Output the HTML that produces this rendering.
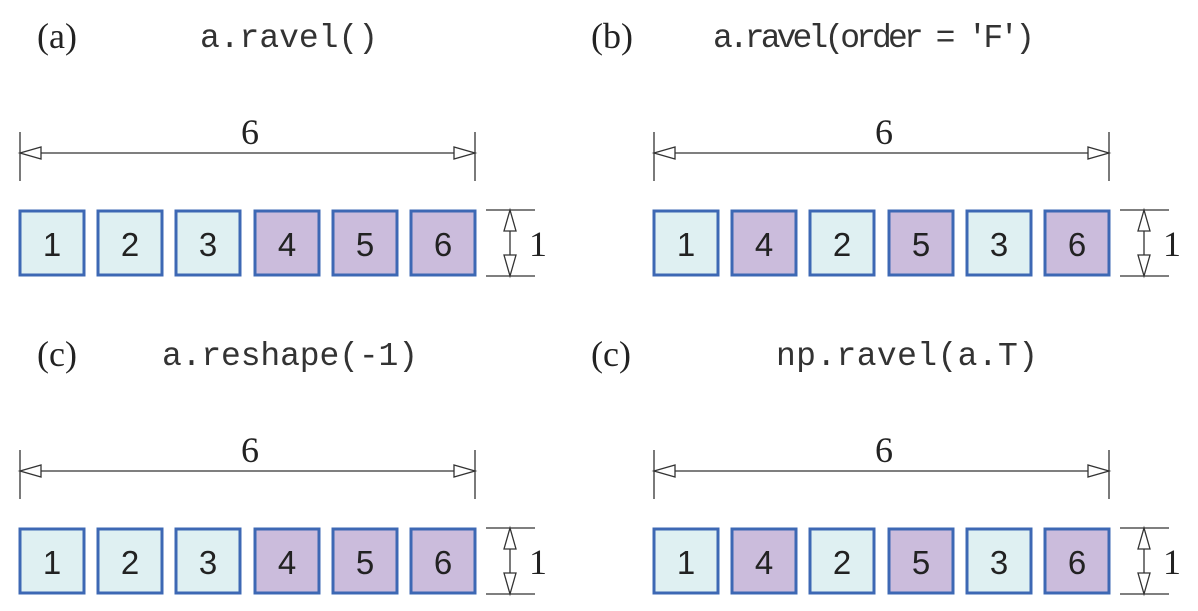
<!DOCTYPE html>
<html><head><meta charset="utf-8"><style>
html,body{margin:0;padding:0;background:#fff}
svg{display:block}
.t{font-family:"Liberation Serif",serif;font-size:36px;fill:#222}
.c{font-family:"Liberation Mono",monospace;font-size:33px;fill:#333}
.n{font-family:"Liberation Sans",sans-serif;font-size:33px;fill:#222;text-anchor:middle}
.l{stroke:#333;stroke-width:1.3;fill:none}
.a{stroke:#333;stroke-width:1.3;fill:#fff}
.b1{fill:#dff0f2;stroke:#3d68b4;stroke-width:3}
.b2{fill:#cbbcdc;stroke:#3d68b4;stroke-width:3}
</style></head><body>
<svg width="1198" height="611" viewBox="0 0 1198 611" xmlns="http://www.w3.org/2000/svg">
<defs>
<g id="dim">
  <line class="l" x1="20" y1="132" x2="20" y2="181"/>
  <line class="l" x1="475" y1="132" x2="475" y2="181"/>
  <line class="l" x1="40" y1="153" x2="455" y2="153"/>
  <polygon class="a" points="20,153 41,147 41,159"/>
  <polygon class="a" points="475,153 454,147 454,159"/>
  <text class="t" x="250" y="144" text-anchor="middle">6</text>
  <line class="l" x1="486" y1="210" x2="535" y2="210"/>
  <line class="l" x1="486" y1="276" x2="535" y2="276"/>
  <line class="l" x1="510" y1="230" x2="510" y2="256"/>
  <polygon class="a" points="510,210 504,231 516,231"/>
  <polygon class="a" points="510,276 504,255 516,255"/>
  <text class="t" x="529" y="256">1</text>
</g>
<g id="r1">
<rect class="b1" x="20" y="211" width="64" height="64"/><text class="n" x="52" y="256">1</text>
<rect class="b1" x="98" y="211" width="64" height="64"/><text class="n" x="130" y="256">2</text>
<rect class="b1" x="176" y="211" width="64" height="64"/><text class="n" x="208" y="256">3</text>
<rect class="b2" x="255" y="211" width="64" height="64"/><text class="n" x="287" y="256">4</text>
<rect class="b2" x="333" y="211" width="64" height="64"/><text class="n" x="365" y="256">5</text>
<rect class="b2" x="411" y="211" width="64" height="64"/><text class="n" x="443" y="256">6</text>
</g>
<g id="r2">
<rect class="b1" x="20" y="211" width="64" height="64"/><text class="n" x="52" y="256">1</text>
<rect class="b2" x="98" y="211" width="64" height="64"/><text class="n" x="130" y="256">4</text>
<rect class="b1" x="176" y="211" width="64" height="64"/><text class="n" x="208" y="256">2</text>
<rect class="b2" x="255" y="211" width="64" height="64"/><text class="n" x="287" y="256">5</text>
<rect class="b1" x="333" y="211" width="64" height="64"/><text class="n" x="365" y="256">3</text>
<rect class="b2" x="411" y="211" width="64" height="64"/><text class="n" x="443" y="256">6</text>
</g>
</defs>

<text class="t" x="37" y="48">(a)</text>
<text class="c" x="200" y="47" textLength="178">a.ravel()</text>
<text class="t" x="591" y="48">(b)</text>
<text class="c" x="713" y="47" textLength="322">a.ravel(order = 'F')</text>
<text class="t" x="37" y="366">(c)</text>
<text class="c" x="162" y="365" textLength="256">a.reshape(-1)</text>
<text class="t" x="591" y="366">(c)</text>
<text class="c" x="776" y="365" textLength="262">np.ravel(a.T)</text>

<use href="#dim"/><use href="#r1"/>
<g transform="translate(634,0)"><use href="#dim"/><use href="#r2"/></g>
<g transform="translate(0,318)"><use href="#dim"/><use href="#r1"/></g>
<g transform="translate(634,318)"><use href="#dim"/><use href="#r2"/></g>
</svg>
</body></html>
